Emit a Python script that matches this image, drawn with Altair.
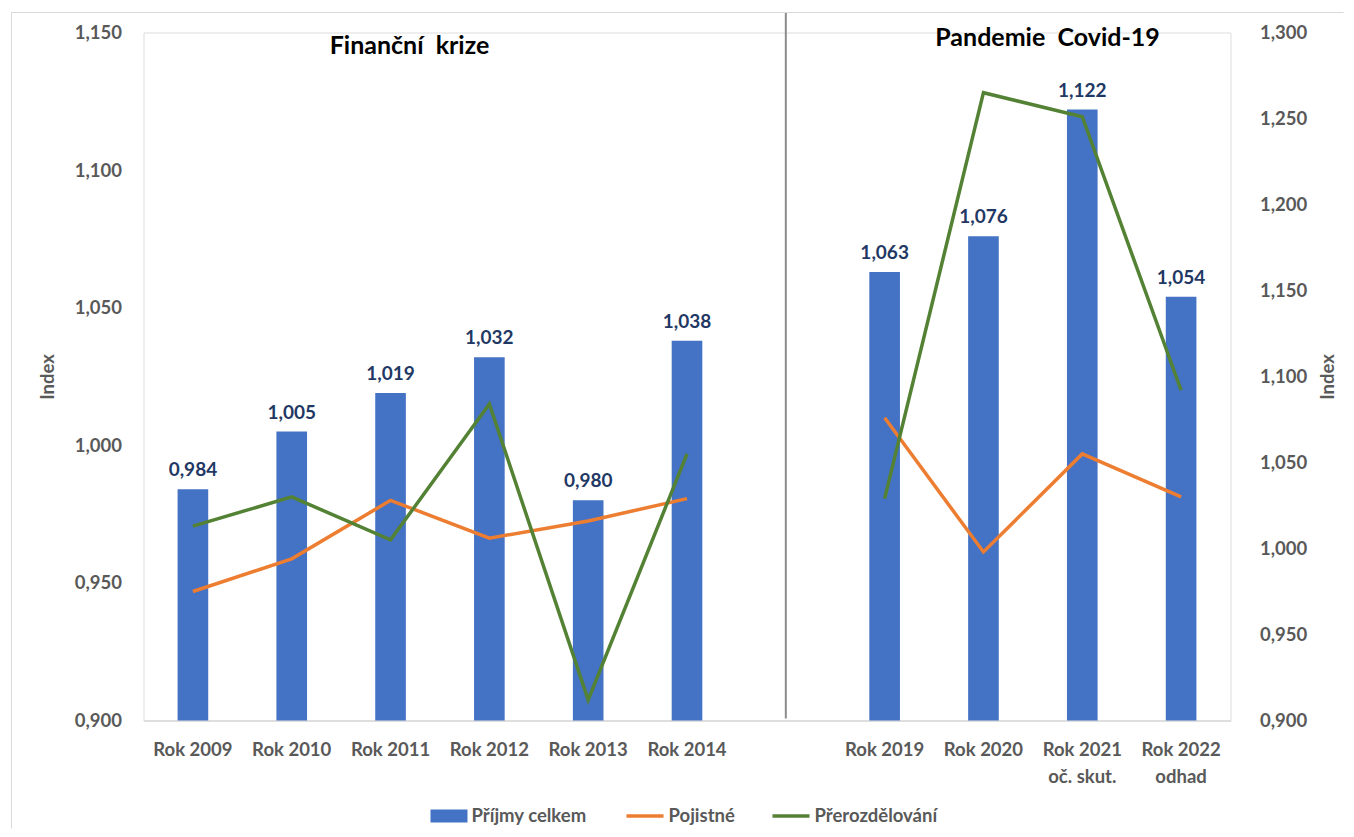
import altair as alt
import pandas as pd

FONT = "Lato"
GRAY = "#595959"

# ---- data ----
categories = ["Rok 2009", "Rok 2010", "Rok 2011", "Rok 2012", "Rok 2013", "Rok 2014", " ",
              "Rok 2019", "Rok 2020", "Rok 2021\noč. skut.", "Rok 2022\nodhad"]
sections = ["A", "A", "A", "A", "A", "A", None, "B", "B", "B", "B"]
prijmy_celkem = [0.984, 1.005, 1.019, 1.032, 0.980, 1.038, None, 1.063, 1.076, 1.122, 1.054]
pojistne = [0.975, 0.994, 1.028, 1.006, 1.016, 1.029, None, 1.076, 0.998, 1.055, 1.030]
prerozdelovani = [1.013, 1.030, 1.005, 1.084, 0.912, 1.055, None, 1.029, 1.265, 1.251, 1.092]
series_names = ["Příjmy celkem", "Pojistné", "Přerozdělování"]
series_colors = ["#4472C4", "#ED7D31", "#548235"]
left_ticks = [0.9, 0.95, 1.0, 1.05, 1.1, 1.15]
right_ticks = [0.9, 0.95, 1.0, 1.05, 1.1, 1.15, 1.2, 1.25, 1.3]
divider_cat = [" "]

bars_df = pd.DataFrame({"cat": categories, "v": prijmy_celkem, "series": series_names[0]}).dropna()
lines_rows = []
for name, vals in [(series_names[1], pojistne), (series_names[2], prerozdelovani)]:
    for c, s, v in zip(categories, sections, vals):
        if v is not None:
            lines_rows.append({"cat": c, "section": s, "series": name, "v": v})
lines_df = pd.DataFrame(lines_rows)

fmt = "replace(format(datum.value, '.3f'), '.', ',')"

x_enc = alt.X(
    "cat:N",
    sort=categories,
    title=None,
    scale=alt.Scale(domain=categories, paddingInner=0.69, paddingOuter=0.345),
    axis=alt.Axis(
        labelAngle=0, labelExpr="split(datum.label, '\\n')", ticks=False, tickSize=0,
        domain=True, domainColor="#D9D9D9", domainWidth=1.5, grid=False,
        labelPadding=20, labelFont=FONT, labelFontSize=18.5, labelFontWeight="bold",
        labelColor=GRAY, labelLineHeight=27,
    ),
)

y_left = alt.Y(
    "v:Q",
    scale=alt.Scale(domain=[0.9, 1.15], nice=False, zero=False),
    axis=alt.Axis(
        values=left_ticks, labelExpr=fmt, title="Index", grid=False, domain=False,
        ticks=False, tickSize=0, labelPadding=22, titlePadding=17,
        labelFont=FONT, labelFontSize=18.5, labelFontWeight="bold", labelColor=GRAY,
        titleFont=FONT, titleFontSize=18.5, titleFontWeight="bold", titleColor=GRAY,
    ),
)

bars = alt.Chart(bars_df).mark_bar(color=series_colors[0]).encode(
    x=x_enc,
    y=y_left,
    y2=alt.datum(0.9),
    fill=alt.Fill(
        "series:N",
        scale=alt.Scale(domain=[series_names[0]], range=[series_colors[0]]),
        legend=alt.Legend(
            orient="none", legendX=287, legendY=765, direction="horizontal", title=None,
            symbolType="M-1,-0.35H1V0.35H-1Z", symbolSize=1369, symbolStrokeWidth=0,
            labelFont=FONT, labelFontSize=18.5, labelFontWeight="bold", labelColor=GRAY,
            labelOffset=4, padding=0,
        ),
    ),
)

labels = alt.Chart(bars_df).transform_calculate(
    lbl="replace(format(datum.v, '.3f'), '.', ',')"
).mark_text(
    dy=-13, baseline="alphabetic", font=FONT, fontSize=19, fontWeight="bold", color="#1F3864"
).encode(x=x_enc, y=alt.Y("v:Q", scale=alt.Scale(domain=[0.9, 1.15], nice=False, zero=False)), text="lbl:N")

left_part = alt.layer(bars, labels)

lines = alt.Chart(lines_df).mark_line(strokeWidth=3.5).encode(
    x=x_enc,
    y=alt.Y(
        "v:Q",
        scale=alt.Scale(domain=[0.9, 1.3], nice=False, zero=False),
        axis=alt.Axis(
            orient="right", values=right_ticks, labelExpr=fmt, title="Index", grid=False,
            domain=False, ticks=False, tickSize=0, labelPadding=29, titlePadding=12,
            titleAngle=270, titleBaseline="top",
            labelFont=FONT, labelFontSize=18.5, labelFontWeight="bold", labelColor=GRAY,
            titleFont=FONT, titleFontSize=18.5, titleFontWeight="bold", titleColor=GRAY,
        ),
    ),
    stroke=alt.Stroke(
        "series:N",
        scale=alt.Scale(domain=series_names[1:], range=series_colors[1:]),
        legend=alt.Legend(
            orient="none", legendX=481, legendY=763, direction="horizontal", title=None,
            symbolType="stroke", symbolSize=1369, symbolStrokeWidth=3.5,
            labelFont=FONT, labelFontSize=18.5, labelFontWeight="bold", labelColor=GRAY,
            labelOffset=3, columnPadding=30, padding=0,
        ),
    ),
    detail="section:N",
)

data_layers = alt.layer(left_part, lines).resolve_scale(y="independent")

divider = alt.Chart(pd.DataFrame({"cat": divider_cat})).mark_rule(
    color="#8C8C8C", strokeWidth=2
).encode(x=x_enc, y=alt.value(-20), y2=alt.value(686))

one = pd.DataFrame({"a": [0]})
frame_top = alt.Chart(one).mark_rule(color="#D9D9D9", strokeWidth=1).encode(
    x=alt.value(-132), x2=alt.value(1200), y=alt.value(-20))
frame_left = alt.Chart(one).mark_rule(color="#D9D9D9", strokeWidth=1).encode(
    x=alt.value(-132), y=alt.value(-20), y2=alt.value(796))

title_left = alt.Chart(one).mark_text(
    font=FONT, fontSize=25, fontWeight="bold", color="#000000", baseline="alphabetic", align="center"
).encode(x=alt.value(266), y=alt.value(21), text=alt.value("Finanční\u00a0 krize"))
title_right = alt.Chart(one).mark_text(
    font=FONT, fontSize=25, fontWeight="bold", color="#000000", baseline="alphabetic", align="center"
).encode(x=alt.value(904), y=alt.value(13), text=alt.value("Pandemie\u00a0 Covid-19"))

chart = alt.layer(
    data_layers, divider, frame_top, frame_left, title_left, title_right
).properties(
    width=1087, height=688,
    padding={"left": 2.5, "top": 3.5, "right": 0, "bottom": 0},
).configure_view(stroke=None).configure(background="white")

chart.save("out.html", embed_options={"renderer": "svg", "actions": False})
